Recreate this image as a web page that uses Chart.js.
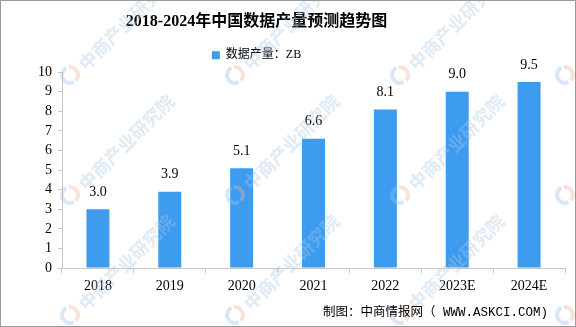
<!DOCTYPE html>
<html>
<head>
<meta charset="utf-8">
<script src="https://cdn.jsdelivr.net/npm/chart.js@4.4.1/dist/chart.umd.min.js"></script>
<style>
  html, body { margin: 0; padding: 0; background: #fff; }
  #wrap { width: 576px; height: 327px; position: relative; }
</style>
</head>
<body>
<div id="wrap"><canvas id="c" width="576" height="327"></canvas></div>
<script>
// Data: China's data output, actual and forecast (ZB)
const categories = ['2018', '2019', '2020', '2021', '2022', '2023E', '2024E'];
const output = [3.0, 3.9, 5.1, 6.6, 8.1, 9.0, 9.5];
const yTicks = [0, 1, 2, 3, 4, 5, 6, 7, 8, 9, 10];
const seriesName = '数据产量：ZB';
const titleText = '2018-2024年中国数据产量预测趋势图';
const sourceText = '制图：中商情报网（ WWW.ASKCI.COM)';
const watermarkText = '中商产业研究院';

const BAR = '#3d9bf0';
const AXIS = '#c8c8c8';
const SERIF = "'Liberation Serif', 'Noto Sans CJK SC', serif";
const MONO = "'Liberation Mono', 'Noto Sans CJK SC', monospace";

// Fixed legend height so the plot starts at the same place every time;
// title and legend sit a little left of the canvas centre.
const headerLayout = {
  id: 'headerLayout',
  beforeInit(chart) {
    const lg = chart.legend;
    if (!lg) return;
    const fit = lg.fit;
    lg.fit = function () {
      fit.call(this);
      this.height = 29;
    };
  },
  afterLayout(chart) {
    const shift = -26;
    [chart.titleBlock, chart.legend].forEach(b => {
      if (!b) return;
      b.left += shift;
      b.right += shift;
    });
  }
};

// Value labels above each bar
const valueLabels = {
  id: 'valueLabels',
  afterDatasetsDraw(chart) {
    const ctx = chart.ctx;
    const meta = chart.getDatasetMeta(0);
    const data = chart.data.datasets[0].data;
    ctx.save();
    ctx.font = '14px ' + SERIF;
    ctx.fillStyle = '#000';
    ctx.textAlign = 'center';
    ctx.textBaseline = 'middle';
    meta.data.forEach((bar, i) => {
      ctx.fillText(data[i].toFixed(1), bar.x, bar.y - 17);
    });
    ctx.restore();
  }
};

// Brand watermark, source line and outer frame
const decor = {
  id: 'decor',
  afterDraw(chart) {
    const ctx = chart.ctx;
    ctx.save();
    const xs = [70, 235, 400, 565];
    const ys = [75, 195, 315];
    ys.forEach(y => xs.forEach(x => {
      ctx.save();
      ctx.globalAlpha = 0.38;
      // round logo: blue and orange halves
      ctx.lineWidth = 4;
      ctx.strokeStyle = '#9cc0e8';
      ctx.beginPath();
      ctx.arc(x, y, 8, Math.PI * 0.35, Math.PI * 1.35);
      ctx.stroke();
      ctx.strokeStyle = '#f0b49c';
      ctx.beginPath();
      ctx.arc(x, y, 8, Math.PI * 1.45, Math.PI * 2.25);
      ctx.stroke();
      ctx.translate(x + 12, y - 8);
      ctx.rotate(-Math.PI / 4);
      ctx.fillStyle = '#a9c7e8';
      ctx.font = 'bold 18px "Noto Sans CJK SC"';
      ctx.textBaseline = 'middle';
      ctx.fillText(watermarkText, 0, 0);
      ctx.restore();
    }));

    ctx.font = '12.5px ' + MONO;
    ctx.fillStyle = '#000';
    ctx.textAlign = 'right';
    ctx.textBaseline = 'middle';
    ctx.fillText(sourceText, 548, 313);

    ctx.strokeStyle = '#9a9a9a';
    ctx.lineWidth = 1;
    ctx.strokeRect(0.5, 0.5, 575, 326);
    ctx.restore();
  }
};

new Chart(document.getElementById('c'), {
  type: 'bar',
  data: {
    labels: categories,
    datasets: [{
      label: seriesName,
      data: output,
      backgroundColor: BAR,
      borderWidth: 0,
      barPercentage: 0.32,
      categoryPercentage: 1
    }]
  },
  options: {
    responsive: false,
    animation: false,
    events: [],
    layout: { padding: { left: 0, right: 11, top: 0, bottom: 0 } },
    plugins: {
      title: {
        display: true,
        text: titleText,
        color: '#000',
        font: { family: "'Liberation Serif', 'Noto Sans CJK SC'", size: 16, weight: 'bold', lineHeight: 1.2 },
        padding: { top: 12, bottom: 12 }
      },
      legend: {
        display: true,
        labels: {
          color: '#000',
          font: { family: SERIF, size: 12 },
          boxWidth: 8,
          boxHeight: 8,
          padding: 6
        }
      },
      tooltip: { enabled: false }
    },
    scales: {
      x: {
        grid: { display: true, offset: true, drawOnChartArea: false, drawTicks: true, tickLength: 5, color: AXIS },
        border: { display: true, color: AXIS },
        ticks: { color: '#000', font: { family: SERIF, size: 14 }, padding: 5, maxRotation: 0, autoSkip: false },
        afterFit(s) { s.height = 59; }
      },
      y: {
        min: 0,
        max: 10,
        afterBuildTicks(s) { s.ticks = yTicks.map(v => ({ value: v })); },
        grid: { display: true, drawOnChartArea: false, drawTicks: true, tickLength: 4, color: AXIS },
        border: { display: true, color: AXIS },
        ticks: { color: '#000', font: { family: SERIF, size: 14 }, padding: 6, autoSkip: false },
        afterFit(s) { s.width = 62; }
      }
    }
  },
  plugins: [headerLayout, valueLabels, decor]
});
</script>
</body>
</html>
